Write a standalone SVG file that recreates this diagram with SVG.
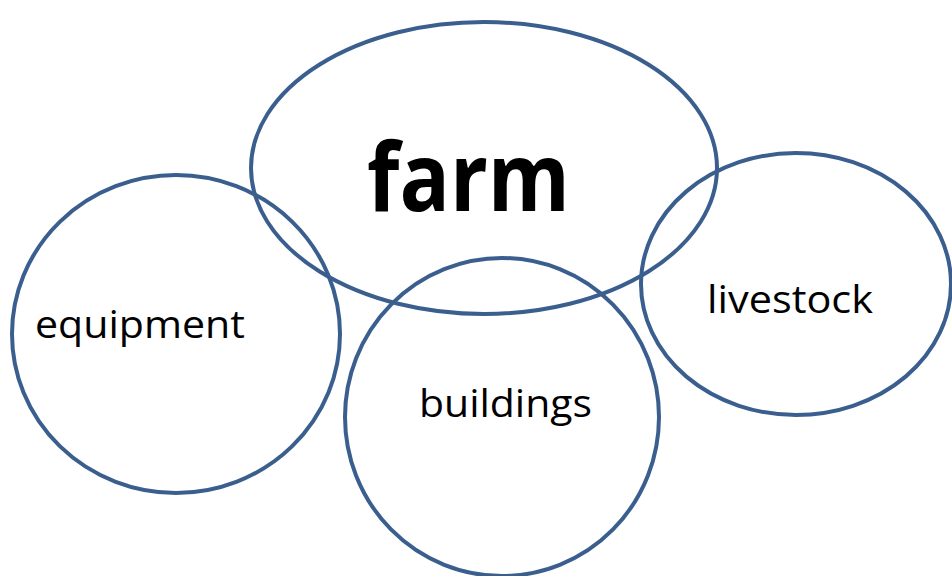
<svg xmlns="http://www.w3.org/2000/svg" width="952" height="576" viewBox="0 0 952 576">
  <style>
    .ring { fill: none; stroke: #3A5F8E; stroke-width: 4; }
    .label { font-family: "Open Sans", "Liberation Sans", sans-serif; fill: #000; }
    .small { font-size: 39px; }
    .big { font-size: 95px; font-weight: bold; }
  </style>
  <rect width="952" height="576" fill="#fff"/>
  <g id="connectors"></g>
  <g id="farm">
    <ellipse class="ring" cx="484" cy="168" rx="233" ry="146"/>
    <text class="label big" x="367" y="211" textLength="203" lengthAdjust="spacingAndGlyphs">farm</text>
  </g>
  <g id="equipment">
    <ellipse class="ring" cx="176" cy="334" rx="164" ry="159"/>
    <text class="label small" x="35" y="338" textLength="210" lengthAdjust="spacingAndGlyphs">equipment</text>
  </g>
  <g id="buildings">
    <ellipse class="ring" cx="502" cy="417" rx="157" ry="159"/>
    <text class="label small" x="419" y="417" textLength="173" lengthAdjust="spacingAndGlyphs">buildings</text>
  </g>
  <g id="livestock">
    <ellipse class="ring" cx="796" cy="284" rx="155" ry="131"/>
    <text class="label small" x="707" y="313" textLength="166" lengthAdjust="spacingAndGlyphs">livestock</text>
  </g>
</svg>
